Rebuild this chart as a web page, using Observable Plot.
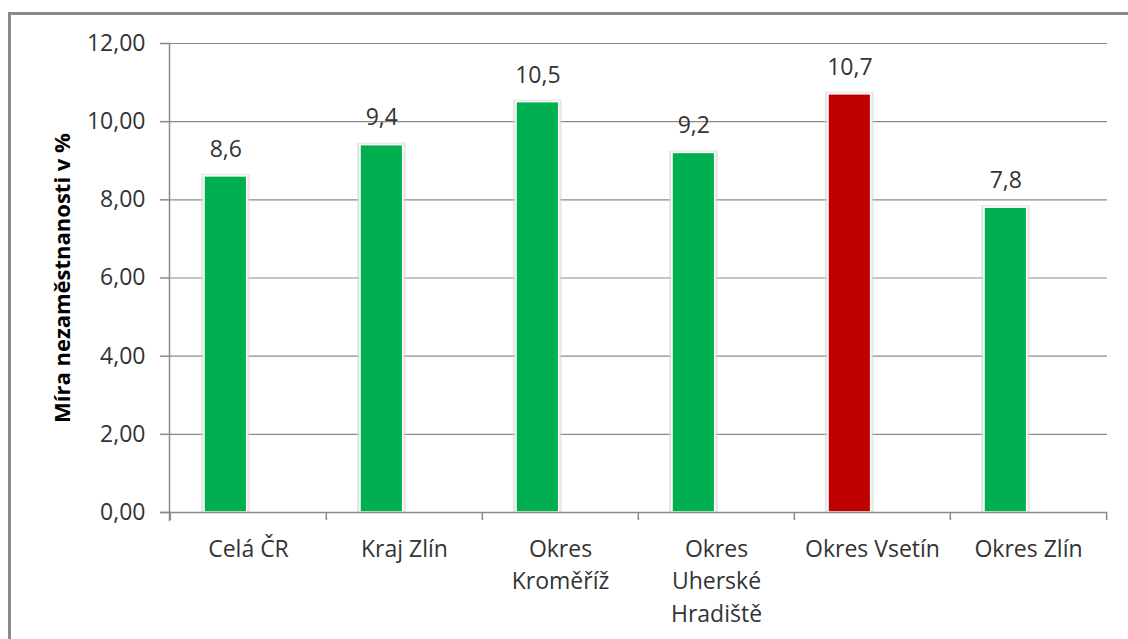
<!DOCTYPE html>
<html><head><meta charset="utf-8">
<script src="https://cdn.jsdelivr.net/npm/d3@7"></script>
<script src="https://cdn.jsdelivr.net/npm/@observablehq/plot@0.6"></script>
<style>
body{margin:0;background:#fff;}
#wrap{position:relative;width:1128px;height:639px;overflow:hidden;background:#fff;}
#frame{position:absolute;left:8px;top:12px;width:1300px;height:800px;border-left:3px solid #8a8a8a;border-top:3px solid #8a8a8a;pointer-events:none;}
</style></head><body><div id="wrap"><div id="chart"></div><div id="frame"></div></div>
<script>
const categories = ["Celá ČR", "Kraj Zlín", "Okres\nKroměříž", "Okres\nUherské\nHradiště", "Okres Vsetín", "Okres Zlín"];
const values = [8.6, 9.4, 10.5, 9.2, 10.7, 7.8];
const colors = ["#00B050", "#00B050", "#00B050", "#00B050", "#C00000", "#00B050"];
const yTicks = [0, 2, 4, 6, 8, 10, 12];
const yTitle = "Míra nezaměstnanosti v %";

const data = categories.map((c, i) => ({category: c, value: values[i], color: colors[i]}));

const W = 1128, H = 639, mL = 169, mR = 21, mT = 43, mB = 127;
const bw = (W - mL - mR) / categories.length;
const barL = 34, barW = 43;
const barOff = barL + barW / 2 - bw / 2;
const gridColor = "#8a8a8a";
const textColor = "#333";
const fs = 23;
const fmt2 = d => d.toFixed(2).replace(".", ",");
const fmt1 = d => d.toFixed(1).replace(".", ",");

const chart = Plot.plot({
  width: W, height: H,
  marginLeft: mL, marginRight: mR, marginTop: mT, marginBottom: mB,
  style: {fontFamily: "'Open Sans', sans-serif", background: "transparent"},
  x: {domain: categories, padding: 0},
  y: {domain: [0, 12]},
  marks: [
    Plot.ruleY(yTicks.filter(d => d > 0), {stroke: gridColor, strokeWidth: 1.2}),
    Plot.barY(data, {x: "category", y: "value", fill: "#d6d6d6", fillOpacity: 0.6,
      insetLeft: barL - 3, insetRight: bw - barL - barW - 3, insetTop: -2}),
    Plot.barY(data, {x: "category", y: "value", fill: "color",
      insetLeft: barL, insetRight: bw - barL - barW, stroke: "white", strokeWidth: 1.5}),
    Plot.ruleY([0], {stroke: gridColor, strokeWidth: 1.5, insetLeft: -9}),
    Plot.frame({anchor: "left", stroke: gridColor, strokeWidth: 1.5, insetBottom: -8}),
    Plot.ruleX(categories, {x: d => d, dx: -bw / 2, y1: d => 0, y2: d => 0, insetBottom: -8, stroke: gridColor, strokeWidth: 1.5}),
    Plot.ruleX(categories.slice(-1), {x: d => d, dx: bw / 2, y1: d => 0, y2: d => 0, insetBottom: -8, stroke: gridColor, strokeWidth: 1.5}),
    Plot.text(data, {x: "category", y: "value", text: d => fmt1(d.value), dx: barOff, dy: -27,
      fontSize: fs, fill: textColor}),
    Plot.axisY({ticks: yTicks, tickSize: 9, tickPadding: 15, tickFormat: fmt2, fontSize: fs,
      stroke: gridColor, strokeWidth: 1.5, fill: textColor, label: null}),
    Plot.axisX({tickSize: 0, tickPadding: 21, fontSize: fs, lineHeight: 1.42, fill: textColor, label: null}),
    Plot.text([yTitle], {frameAnchor: "left", textAnchor: "middle", dx: -107, rotate: -90, fontSize: 22, fontWeight: "bold", fill: "#000"})
  ]
});
document.getElementById("chart").appendChild(chart);
</script>
</body></html>
